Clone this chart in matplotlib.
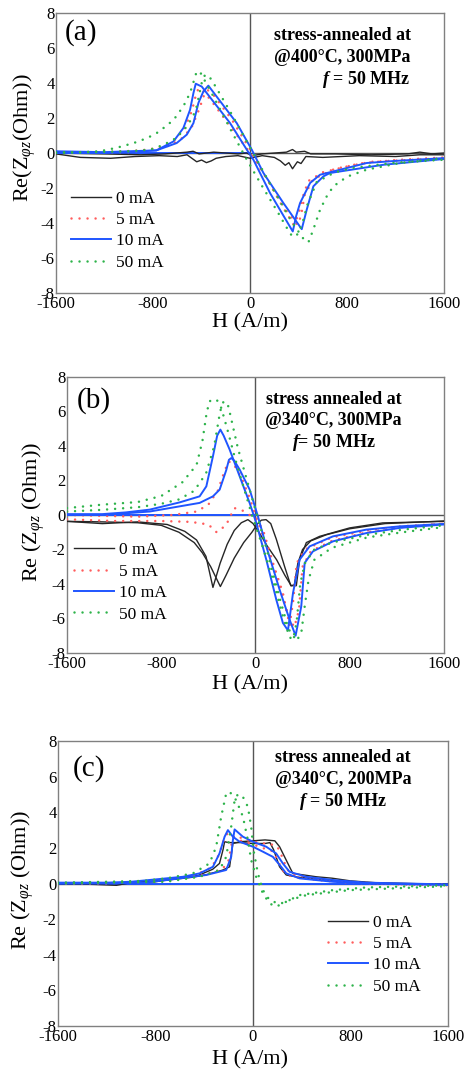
import matplotlib
matplotlib.use('Agg')
import matplotlib.pyplot as plt

plt.rcParams['font.family'] = ['Liberation Serif', 'DejaVu Serif']
plt.rcParams['mathtext.fontset'] = 'custom'
plt.rcParams['mathtext.rm'] = 'Liberation Serif'
plt.rcParams['mathtext.it'] = 'Liberation Serif:italic'
plt.rcParams['mathtext.bfit'] = 'Liberation Serif:italic:bold'

currents = ['0 mA', '5 mA', '10 mA', '50 mA']
x_ticks = [-1600, -800, 0, 800, 1600]
y_ticks = [-8, -6, -4, -2, 0, 2, 4, 6, 8]

# ---- panel (a): 400C, 300MPa ----  each branch = list of (H, Re Z)
a_0mA_1 = [(-1600, -0.05), (-1400, -0.25), (-1150, -0.3), (-950, -0.2), (-750, -0.15), (-600, -0.2),
           (-520, -0.1), (-480, -0.3), (-440, -0.5), (-400, -0.4), (-360, -0.55), (-320, -0.45),
           (-280, -0.3), (-200, -0.2), (-100, -0.15), (0, -0.3), (100, -0.15), (200, -0.25),
           (250, -0.45), (290, -0.7), (320, -0.55), (350, -0.9), (390, -0.5), (420, -0.6),
           (460, -0.2), (600, -0.25), (900, -0.15), (1200, -0.2), (1400, -0.1), (1600, -0.1)]
a_0mA_2 = [(-1600, 0.0), (-1200, -0.05), (-900, -0.1), (-700, -0.05), (-520, 0.05), (-470, 0.1),
           (-420, -0.05), (-300, 0.05), (-200, 0.0), (-100, -0.05), (-30, 0.0), (20, -0.15),
           (100, -0.05), (200, 0.0), (300, 0.05), (350, 0.2), (380, 0.05), (450, 0.1), (500, -0.05),
           (700, -0.05), (1000, -0.1), (1300, -0.05), (1400, 0.05), (1500, -0.05), (1600, 0.0)]
a_5mA_1 = [(-1600, 0.05), (-1200, 0.05), (-900, 0.15), (-750, 0.3), (-620, 0.75), (-540, 1.4),
           (-480, 2.4), (-440, 3.5), (-420, 3.7), (-390, 3.6), (-300, 2.8), (-150, 1.4), (0, 0.0),
           (150, -1.6), (280, -3.2), (360, -4.1), (400, -3.5), (430, -2.6), (480, -1.6), (600, -1.1),
           (900, -0.6), (1200, -0.4), (1600, -0.25)]
a_5mA_2 = [(-1600, 0.0), (-1000, 0.05), (-800, 0.2), (-650, 0.45), (-550, 0.9), (-480, 1.5),
           (-420, 2.5), (-380, 3.3), (-350, 3.6), (-300, 3.3), (-150, 1.9), (0, 0.2), (150, -1.6),
           (300, -3.3), (390, -4.1), (420, -3.6), (450, -2.4), (520, -1.5), (700, -0.9),
           (1000, -0.5), (1600, -0.3)]
a_10mA_1 = [(-1600, 0.1), (-1200, 0.05), (-1000, 0.1), (-773, 0.15), (-632, 0.66), (-550, 1.43),
            (-495, 2.47), (-467, 3.43), (-448, 3.96), (-399, 3.8), (-165, 1.71), (-27, 0.19),
            (27, -0.38), (165, -2.29), (352, -4.48), (380, -3.6), (412, -2.86), (495, -1.71),
            (577, -1.24), (687, -1.05), (962, -0.57), (1200, -0.45), (1600, -0.29)]
a_10mA_2 = [(-1600, 0.0), (-1200, 0.0), (-1000, 0.05), (-773, 0.15), (-605, 0.57), (-522, 1.05),
            (-467, 1.71), (-426, 2.86), (-385, 3.52), (-344, 3.85), (-110, 1.71), (14, 0.19),
            (110, -1.14), (275, -2.86), (426, -4.35), (467, -3.24), (522, -1.9), (605, -1.33),
            (660, -1.14), (1100, -0.67), (1600, -0.34)]
a_50mA_1 = [(-1600, 0.05), (-1400, 0.05), (-1240, 0.1), (-1100, 0.3), (-960, 0.57), (-850, 0.85),
            (-770, 1.14), (-700, 1.5), (-630, 1.9), (-550, 2.67), (-495, 3.43), (-460, 4.2),
            (-440, 4.67), (-410, 4.6), (-300, 3.2), (-150, 1.2), (-27, -0.38), (100, -1.9),
            (230, -3.4), (330, -4.6), (357, -4.8), (400, -4.6), (440, -3.8), (470, -3.0),
            (550, -1.65), (700, -1.1), (850, -0.85), (1200, -0.55), (1600, -0.38)]
a_50mA_2 = [(-1600, 0.0), (-1300, 0.05), (-1000, 0.1), (-825, 0.19), (-720, 0.45), (-632, 0.76),
            (-560, 1.2), (-522, 1.52), (-470, 2.1), (-440, 2.67), (-399, 4.0), (-371, 4.48),
            (-330, 4.3), (-302, 4.0), (-150, 2.2), (55, -0.38), (200, -2.2), (350, -4.0),
            (440, -4.9), (481, -5.1), (520, -4.4), (577, -3.24), (630, -2.5), (687, -1.9),
            (800, -1.35), (962, -0.95), (1237, -0.57), (1600, -0.29)]

# ---- panel (b): 340C, 300MPa ----
b_0mA_1 = [(-1600, -0.37), (-1300, -0.5), (-1000, -0.4), (-750, -0.55), (-600, -0.95), (-500, -1.45),
           (-420, -2.4), (-361, -4.2), (-300, -2.8), (-240, -1.7), (-180, -0.9), (-120, -0.45),
           (-64, -0.27), (-20, -0.5), (30, -1.0), (100, -1.8), (180, -2.6), (250, -3.5), (304, -4.1),
           (330, -4.05), (360, -2.8), (400, -2.0), (470, -1.5), (600, -1.15), (800, -0.8),
           (1100, -0.5), (1600, -0.35)]
b_0mA_2 = [(-1600, -0.37), (-1300, -0.4), (-1000, -0.45), (-800, -0.6), (-650, -1.0), (-520, -1.6),
           (-450, -2.2), (-380, -3.0), (-298, -4.15), (-250, -3.5), (-180, -2.5), (-100, -1.6),
           (-30, -1.0), (20, -0.5), (50, -0.3), (90, -0.27), (130, -0.5), (177, -1.4), (248, -3.0),
           (300, -4.1), (347, -4.1), (375, -2.6), (432, -1.6), (545, -1.24), (800, -0.75),
           (1080, -0.46), (1600, -0.37)]
b_5mA_1 = [(-1600, 0.0), (-1000, -0.1), (-700, 0.0), (-500, 0.2), (-400, 0.6), (-320, 1.4),
           (-270, 2.4), (-230, 3.1), (-190, 3.0), (-120, 2.2), (-50, 1.0), (0, 0.0), (100, -1.9),
           (200, -4.0), (280, -5.9), (330, -6.5), (370, -5.5), (400, -3.0), (470, -2.1),
           (650, -1.5), (950, -1.0), (1250, -0.7), (1600, -0.5)]
b_5mA_2 = [(-1600, -0.25), (-1200, -0.35), (-800, -0.35), (-550, -0.4), (-400, -0.55), (-330, -1.0),
           (-250, -0.6), (-180, 0.4), (-120, 0.3), (-50, 0.0), (0, -0.2), (64, -0.85), (149, -2.78),
           (233, -4.52), (290, -6.4), (320, -5.0), (350, -2.8), (420, -2.0), (650, -1.3),
           (950, -0.9), (1250, -0.65), (1600, -0.5)]
b_10mA_1 = [(-1600, 0.05), (-1300, 0.05), (-1100, 0.15), (-898, 0.31), (-644, 0.73), (-474, 1.08),
            (-417, 1.66), (-361, 3.4), (-325, 4.6), (-298, 4.95), (-270, 4.6), (-219, 3.79),
            (-134, 2.24), (-49, 0.69), (7, -0.46), (92, -2.59), (177, -4.91), (233, -6.26),
            (276, -6.69), (319, -4.52), (375, -2.59), (460, -1.82), (658, -1.24), (941, -0.85),
            (1224, -0.66), (1600, -0.52)]
b_10mA_2 = [(-1600, 0.0), (-1300, 0.0), (-1100, 0.1), (-898, 0.2), (-644, 0.5), (-474, 0.7),
            (-361, 1.08), (-304, 1.47), (-248, 2.6), (-225, 3.2), (-205, 3.3), (-180, 3.15),
            (-134, 2.63), (-49, 1.47), (21, -0.08), (92, -1.82), (205, -4.33), (290, -6.07),
            (341, -7.0), (389, -5.3), (418, -2.78), (488, -2.11), (658, -1.53), (941, -1.05),
            (1224, -0.75), (1600, -0.55)]
b_50mA_1 = [(-1600, 0.4), (-1300, 0.6), (-1000, 0.75), (-800, 1.1), (-620, 1.9), (-500, 2.9),
            (-450, 4.3), (-415, 5.9), (-390, 6.6), (-330, 6.7), (-290, 6.2), (-240, 5.0),
            (-170, 3.2), (-100, 1.6), (-30, 0.0), (50, -1.6), (150, -3.8), (230, -5.8), (290, -7.1),
            (320, -7.2), (350, -6.2), (380, -4.0), (420, -2.8), (500, -2.0), (650, -1.6),
            (950, -1.15), (1250, -0.85), (1600, -0.6)]
b_50mA_2 = [(-1600, 0.2), (-1300, 0.3), (-1000, 0.45), (-800, 0.65), (-650, 0.9), (-520, 1.4),
            (-420, 2.4), (-350, 4.0), (-300, 6.0), (-270, 6.6), (-230, 6.3), (-200, 5.4),
            (-150, 3.9), (-80, 2.2), (0, 0.3), (80, -1.6), (180, -4.2), (280, -6.6), (350, -7.3),
            (390, -6.8), (420, -5.2), (450, -3.8), (500, -2.6), (650, -1.9), (950, -1.3),
            (1250, -1.0), (1600, -0.7)]

# ---- panel (c): 340C, 200MPa ----
c_0mA_1 = [(-1600, 0.0), (-1300, -0.05), (-1120, -0.1), (-1000, 0.05), (-800, 0.1), (-600, 0.3),
           (-450, 0.45), (-330, 0.8), (-274, 1.13), (-245, 1.9), (-232, 2.35), (-200, 2.3),
           (-100, 2.3), (0, 2.25), (100, 2.25), (140, 2.3), (170, 1.9), (219, 0.94), (274, 0.48),
           (380, 0.35), (600, 0.2), (800, 0.1), (1000, 0.0), (1600, -0.05)]
c_0mA_2 = [(-1600, 0.0), (-1200, 0.0), (-900, 0.1), (-700, 0.2), (-500, 0.35), (-380, 0.5),
           (-250, 0.75), (-191, 0.94), (-164, 2.25), (-100, 2.35), (0, 2.4), (100, 2.45),
           (180, 2.4), (219, 2.07), (274, 1.31), (328, 0.57), (520, 0.38), (650, 0.3), (800, 0.15),
           (1000, 0.05), (1600, -0.05)]
c_5mA_1 = [(-1600, 0.0), (-1200, 0.0), (-1000, 0.1), (-800, 0.15), (-600, 0.35), (-450, 0.55),
           (-340, 0.9), (-280, 1.6), (-240, 2.4), (-210, 2.8), (-180, 2.7), (-120, 2.45), (0, 2.2),
           (100, 1.95), (170, 1.8), (210, 1.2), (250, 0.7), (300, 0.45), (400, 0.3), (600, 0.15),
           (800, 0.05), (1000, 0.0), (1300, -0.05), (1600, -0.05)]
c_5mA_2 = [(-1600, 0.0), (-1100, 0.05), (-800, 0.1), (-600, 0.3), (-400, 0.5), (-250, 0.8),
           (-200, 1.3), (-175, 2.2), (-160, 2.6), (-140, 2.7), (-60, 2.45), (50, 2.3), (150, 2.2),
           (200, 2.1), (240, 1.5), (280, 0.8), (330, 0.5), (450, 0.35), (650, 0.15), (900, 0.05),
           (1200, -0.05), (1600, -0.1)]
c_10mA_1 = [(-1600, 0.05), (-1200, 0.05), (-1000, 0.1), (-848, 0.2), (-574, 0.38), (-438, 0.57),
            (-328, 0.94), (-274, 1.69), (-232, 2.63), (-205, 3.0), (-164, 2.63), (-109, 2.35),
            (0, 2.07), (82, 1.79), (164, 1.5), (232, 0.94), (274, 0.57), (383, 0.29), (656, 0.1),
            (930, 0.0), (1600, -0.08)]
c_10mA_2 = [(-1600, 0.0), (-1200, 0.0), (-900, 0.05), (-700, 0.2), (-383, 0.48), (-219, 0.76),
            (-178, 1.5), (-164, 2.44), (-150, 3.04), (-82, 2.63), (0, 2.35), (109, 2.07),
            (191, 1.69), (246, 1.13), (301, 0.66), (438, 0.38), (656, 0.2), (930, 0.05),
            (1600, -0.05)]
c_50mA_1 = [(-1600, 0.05), (-1200, 0.1), (-900, 0.15), (-711, 0.29), (-492, 0.57), (-356, 1.13),
            (-301, 2.07), (-260, 3.76), (-219, 5.06), (-190, 5.15), (-137, 4.68), (-82, 3.76),
            (-41, 2.44), (-14, 1.32), (27, 0.38), (82, -0.55), (137, -1.12), (191, -1.3),
            (274, -1.02), (383, -0.65), (656, -0.37), (930, -0.22), (1600, -0.1)]
c_50mA_2 = [(-1600, 0.0), (-1200, 0.05), (-711, 0.1), (-438, 0.38), (-274, 0.76), (-219, 1.5),
            (-178, 3.19), (-150, 4.68), (-123, 5.02), (-82, 4.87), (-41, 4.31), (-14, 3.19),
            (5, 1.88), (41, 0.57), (82, -0.37), (137, -0.93), (219, -1.15), (301, -0.93),
            (438, -0.65), (793, -0.37), (1600, -0.15)]

colors = ['#262626', '#ff5c5c', '#1f55ff', '#2db34a']
styles = ['-', (0, (0.01, 3.2)), '-', (0, (0.01, 3.2))]
widths = [1.0, 1.8, 1.4, 1.8]

panels = [
    dict(series=[(a_0mA_1, a_0mA_2), (a_5mA_1, a_5mA_2), (a_10mA_1, a_10mA_2), (a_50mA_1, a_50mA_2)],
         rect=[0.120, 0.7274, 0.831, 0.2605], tag='(a)', tagpos=(0.023, 0.93),
         note=['stress-annealed at', '@400°C, 300MPa', r'$\mathbfit{f}$ = 50 MHz'],
         note_x=0.914, note_y=0.92, note_ha='right',
         leg=(0.02, 0.055), ylab='Re(Z$_{\\varphi z}$(Ohm))', ylab_xy=(25, 138),
         xlab_y=323, blue_xmax=0.5),
    dict(series=[(b_0mA_1, b_0mA_2), (b_5mA_1, b_5mA_2), (b_10mA_1, b_10mA_2), (b_50mA_1, b_50mA_2)],
         rect=[0.1435, 0.3926, 0.807, 0.2567], tag='(b)', tagpos=(0.027, 0.915),
         note=['stress annealed at', '@340°C, 300MPa', r'$\mathbfit{f}$= 50 MHz'],
         note_x=0.707, note_y=0.92, note_ha='center',
         leg=(0.0, 0.085), ylab='Re (Z$_{\\varphi z}$ (Ohm))', ylab_xy=(34, 512),
         xlab_y=685, blue_xmax=0.5),
    dict(series=[(c_0mA_1, c_0mA_2), (c_5mA_1, c_5mA_2), (c_10mA_1, c_10mA_2), (c_50mA_1, c_50mA_2)],
         rect=[0.124, 0.0456, 0.835, 0.265], tag='(c)', tagpos=(0.038, 0.905),
         note=['stress annealed at', '@340°C, 200MPa', r'$\mathbfit{f}$ = 50 MHz'],
         note_x=0.731, note_y=0.944, note_ha='center',
         leg=(0.675, 0.085), ylab='Re (Z$_{\\varphi z}$ (Ohm))', ylab_xy=(23, 880),
         xlab_y=1060, blue_xmax=1.0),
]

W, H = 467, 1075
fig = plt.figure(figsize=(W / 100, H / 100), dpi=100)

for p in panels:
    ax = fig.add_axes(p['rect'])
    ax.axhline(0, color='#555555', lw=1.0, zorder=1)
    ax.axvline(0, color='#555555', lw=1.0, zorder=1)
    ax.axhline(0, xmin=0, xmax=p['blue_xmax'], color=colors[2], lw=1.4, zorder=2)
    for i, (br1, br2) in enumerate(p['series']):
        for j, br in enumerate((br1, br2)):
            h, z = zip(*br)
            ax.plot(h, z, color=colors[i], ls=styles[i], lw=widths[i],
                    dash_capstyle='round', label=currents[i] if j == 0 else None, zorder=3)
    ax.set_xlim(-1600, 1600)
    ax.set_ylim(-8, 8)
    ax.set_xticks(x_ticks)
    ax.set_xticklabels([str(v) for v in x_ticks])
    ax.set_yticks(y_ticks)
    ax.set_yticklabels([str(v) for v in y_ticks])
    ax.tick_params(length=0, labelsize=12)
    ax.tick_params(axis='y', pad=1)
    ax.tick_params(axis='x', pad=2)
    for s in ax.spines.values():
        s.set_color('#808080')
        s.set_linewidth(1.0)

    ax.text(p['tagpos'][0], p['tagpos'][1], p['tag'], transform=ax.transAxes,
            fontsize=21, ha='left', va='center')
    for k, line in enumerate(p['note']):
        ax.text(p['note_x'], p['note_y'] - k * 0.078, line, transform=ax.transAxes,
                fontsize=13, fontweight='bold', ha=p['note_ha'], va='center')

    ax.legend(loc='lower left', bbox_to_anchor=p['leg'], frameon=False, fontsize=12.5,
              handlelength=2.3, handletextpad=0.3, labelspacing=0.3, borderaxespad=0)

    fig.text(p['ylab_xy'][0] / W, 1 - p['ylab_xy'][1] / H, p['ylab'], rotation=90,
             fontsize=16, ha='center', va='center')
    fig.text(250 / W, 1 - p['xlab_y'] / H, 'H (A/m)', fontsize=16, ha='center', va='center')

fig.savefig('out.png', dpi=100)
